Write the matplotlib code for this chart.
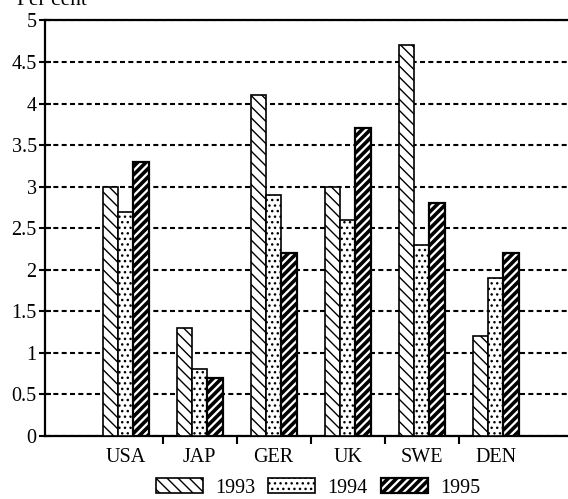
import matplotlib
matplotlib.use('Agg')
import matplotlib.pyplot as plt
from matplotlib.ticker import FixedLocator, NullFormatter
import numpy as np

plt.rcParams['font.family'] = ['Liberation Serif', 'DejaVu Serif']
plt.rcParams['lines.scale_dashes'] = False
plt.rcParams['hatch.linewidth'] = 1.0

countries = ['USA', 'JAP', 'GER', 'UK', 'SWE', 'DEN']
years = ['1993', '1994', '1995']
v1993 = [3.0, 1.3, 4.1, 3.0, 4.7, 1.2]
v1994 = [2.7, 0.8, 2.9, 2.6, 2.3, 1.9]
v1995 = [3.3, 0.7, 2.2, 3.7, 2.8, 2.2]

hatches = ['\\\\\\', '...', '////']
hatch_lw = [1.0, 1.0, 2.6]

fig = plt.figure(figsize=(5.68, 4.99), dpi=100)
ax = fig.add_axes([0.0792, 0.1263, 0.95, 0.8327])

x = np.arange(len(countries))
w = 0.207
for i, (vals, h) in enumerate(zip([v1993, v1994, v1995], hatches)):
    bars = ax.bar(x + (i - 1) * w, vals, width=w, color='white', edgecolor='black',
                  linewidth=1.2 if i < 2 else 1.6, hatch=h, label=years[i], zorder=3)
    for b in bars:
        try:
            b.set_hatch_linewidth(hatch_lw[i])
        except AttributeError:
            pass

ax.set_xlim(-1.09, 6.2)
ax.set_ylim(0, 5)
ax.set_yticks(np.arange(0, 5.01, 0.5))
ax.set_yticklabels(['0', '0.5', '1', '1.5', '2', '2.5', '3', '3.5', '4', '4.5', '5'])
ax.yaxis.grid(True, color='black', linewidth=1.5, linestyle=(0, (3.6, 2.4)))
ax.set_axisbelow(True)

ax.set_xticks(x)
ax.set_xticklabels(countries)
ax.tick_params(axis='x', which='major', length=0, pad=9, labelsize=14.5)
ax.xaxis.set_minor_locator(FixedLocator(x[:-1] + 0.5))
ax.xaxis.set_minor_formatter(NullFormatter())
ax.tick_params(axis='x', which='minor', length=6, width=1.5, direction='out')
ax.tick_params(axis='y', length=8, width=1.5, direction='inout', pad=2, labelsize=14.5)

for s in ['left', 'top', 'bottom']:
    ax.spines[s].set_linewidth(1.6)
ax.spines['right'].set_visible(False)

fig.text(17 / 568, 1 - 5 / 499, 'Per cent', fontsize=15.5, va='baseline', ha='left')

leg = ax.legend(loc='center', bbox_to_anchor=(318 / 568, 1 - 488 / 499),
                bbox_transform=fig.transFigure, ncol=3, frameon=False, fontsize=14.5,
                handlelength=2.35, handleheight=0.75, handletextpad=0.6,
                columnspacing=0.65, borderpad=0)
for p, lw in zip(leg.get_patches(), hatch_lw):
    try:
        p.set_hatch_linewidth(lw)
    except AttributeError:
        pass

fig.savefig('out.png', dpi=100)
